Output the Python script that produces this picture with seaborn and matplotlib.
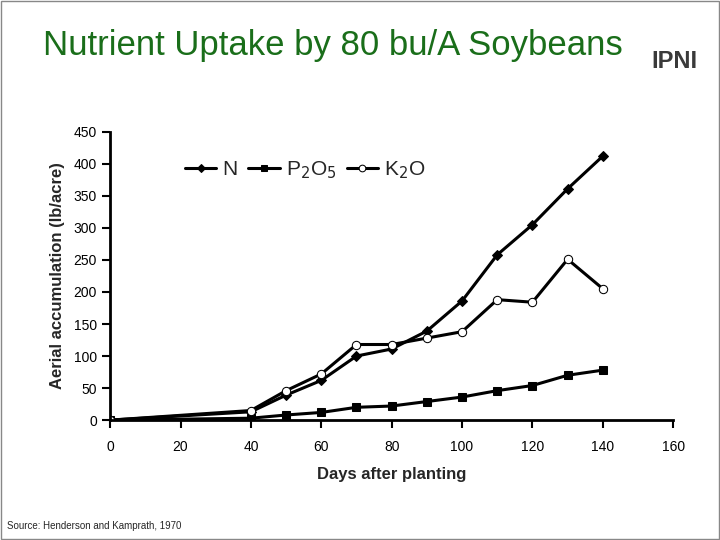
import matplotlib
matplotlib.use("Agg")
import matplotlib.pyplot as plt
import seaborn as sns
import pandas as pd

days = [0, 40, 50, 60, 70, 80, 90, 100, 110, 120, 130, 140]
n_vals = [0, 13, 39, 62, 100, 111, 139, 186, 258, 305, 361, 412]
p_vals = [0, 3, 8, 12, 20, 22, 29, 36, 46, 54, 70, 78]
k_vals = [0, 15, 46, 72, 118, 118, 128, 138, 188, 184, 251, 205]

sns.set_style("white")
plt.rcParams['font.family'] = ['Liberation Sans', 'DejaVu Sans']

fig = plt.figure(figsize=(7.2, 5.4), dpi=100)
ax = fig.add_axes([0.153, 0.222, 0.782, 0.534])

sns.lineplot(x=days, y=n_vals, ax=ax, color='black', lw=2.2, marker='D', markersize=5,
             markerfacecolor='black', markeredgecolor='black', label='N')
sns.lineplot(x=days, y=p_vals, ax=ax, color='black', lw=2.2, marker='s', markersize=6,
             markerfacecolor='black', markeredgecolor='black', label='P$_2$O$_5$')
sns.lineplot(x=days, y=k_vals, ax=ax, color='black', lw=2.2, marker='o', markersize=6,
             markerfacecolor='white', markeredgecolor='black', label='K$_2$O')

ax.set_xlim(0, 160)
ax.set_ylim(0, 450)
ax.set_xticks(range(0, 161, 20))
ax.set_yticks(range(0, 451, 50))
for s in ['top', 'right']:
    ax.spines[s].set_visible(False)
for s in ['left', 'bottom']:
    ax.spines[s].set_color('black')
    ax.spines[s].set_linewidth(2)
ax.tick_params(direction='out', length=6, width=1.5, colors='black', labelsize=10,
               bottom=True, left=True)
ax.tick_params(axis='x', pad=8)
ax.set_xlabel('Days after planting', fontsize=12, fontweight='bold', labelpad=10)
ax.set_ylabel('Aerial accumulation (lb/acre)', fontsize=12, fontweight='bold', labelpad=6)
leg = ax.legend(loc='upper left', bbox_to_anchor=(0.1, 0.97), ncol=3, frameon=False,
                fontsize=15, handlelength=1.5, handletextpad=0.3, columnspacing=0.5,
                markerscale=0.8)

fig.text(0.06, 0.915, 'Nutrient Uptake by 80 bu/A Soybeans', fontsize=25, color='#1a6e1a',
         va='center')
fig.text(0.905, 0.875, 'IPNI', fontsize=17, fontweight='bold', color='#3a3a3a')
fig.text(0.01, 0.02, 'Source: Henderson and Kamprath, 1970', fontsize=7)
fig.patches.append(plt.Rectangle((0.002, 0.002), 0.996, 0.996, transform=fig.transFigure,
                                 fill=False, edgecolor='#888888', lw=1))
fig.savefig('out.png', dpi=100)
